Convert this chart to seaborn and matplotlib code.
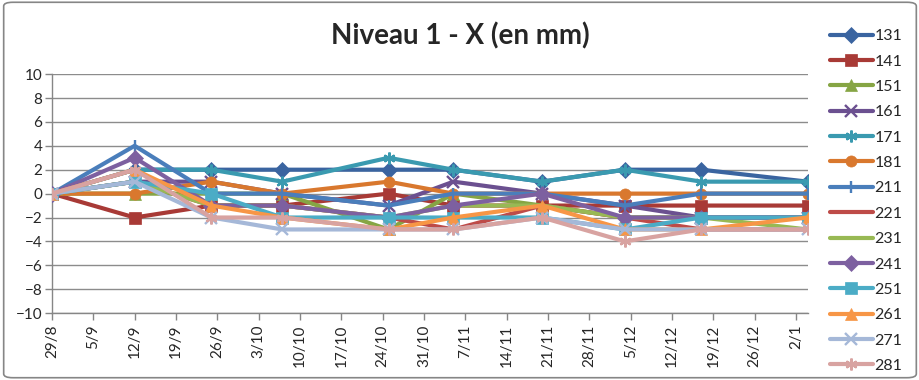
import matplotlib
matplotlib.use('Agg')
import matplotlib.pyplot as plt
import matplotlib.dates as mdates
from matplotlib.patches import FancyBboxPatch
import pandas as pd
import seaborn as sns

# measurement dates (dd/mm), season 2011-2012
dates = ['2011-08-29', '2011-09-12', '2011-09-25', '2011-10-07', '2011-10-25',
         '2011-11-05', '2011-11-20', '2011-12-04', '2011-12-17', '2012-01-04']

names = ['131', '141', '151', '161', '171', '181', '211',
         '221', '231', '241', '251', '261', '271', '281']

s131 = [0, 2, 2, 2, 2, 2, 1, 2, 2, 1]
s141 = [0, -2, -1, -1, 0, -1, -1, -1, -1, -1]
s151 = [0, 0, 0, 0, -3, 0, -1, -2, -2, -2]
s161 = [0, 1, 1, 0, -1, 1, 0, -1, -2, -2]
s171 = [0, 2, 2, 1, 3, 2, 1, 2, 1, 1]
s181 = [0, 0, 1, 0, 1, 0, 0, 0, 0, 0]
s211 = [0, 4, 0, 0, -1, 0, 0, -1, 0, 0]
s221 = [0, 1, -1, -1, -2, -3, -1, -2, -3, -3]
s231 = [0, 1, -1, -1, -2, -1, -1, -2, -2, -3]
s241 = [0, 3, -1, -1, -2, -1, 0, -2, -2, -2]
s251 = [0, 1, 0, -2, -2, -2, -2, -3, -2, -2]
s261 = [0, 2, -1, -2, -3, -2, -1, -3, -3, -2]
s271 = [0, 1, -2, -3, -3, -3, -2, -3, -3, -3]
s281 = [0, 2, -2, -2, -3, -3, -2, -4, -3, -3]

series = [s131, s141, s151, s161, s171, s181, s211,
          s221, s231, s241, s251, s261, s271, s281]

colors = ['#3A64A0', '#A83A36', '#86A544', '#6B5090', '#3A9AB0', '#D9782E', '#4A7EBB',
          '#BE4B48', '#98B954', '#7D60A0', '#4BACC6', '#F79646', '#A5B8D8', '#D8A3A1']
markers = ['D', 's', '^', 'x', (6, 2, 0), 'o', '|',
           '_', '_', 'D', 's', '^', 'x', (6, 2, 0)]

week_ticks = pd.date_range('2011-08-29', periods=19, freq='7D')

sns.set_style('white')
plt.rcParams['font.family'] = ['Lato', 'DejaVu Sans']

fig = plt.figure(figsize=(9.2, 3.8), dpi=100)
ax = fig.add_axes([0.0565, 0.176, 0.8215, 0.629])

x = pd.to_datetime(dates)
for name, vals, c, m in zip(names, series, colors, markers):
    lined = m in ('x', '|', '_', (6, 2, 0))
    sns.lineplot(x=x, y=vals, ax=ax, color=c, marker=m, label=name,
                 linewidth=3, markersize=8.5 if lined else 8,
                 markeredgecolor=c, markeredgewidth=1.7 if lined else 0.5,
                 zorder=3)

ax.set_ylim(-10, 10)
ax.set_yticks(range(-10, 11, 2))
ax.set_xlim(pd.Timestamp('2011-08-29'), pd.Timestamp('2012-01-04'))
ax.set_xticks(week_ticks)
ax.xaxis.set_major_formatter(mdates.DateFormatter('%-d/%-m'))
ax.tick_params(axis='x', rotation=90, labelsize=11, length=5, width=1,
               color='#868686', direction='out', bottom=True, pad=3)
ax.tick_params(axis='y', labelsize=11, length=5, width=1,
               color='#868686', direction='out', left=True, pad=2)
ax.yaxis.grid(True, color='#8C8C8C', linewidth=1)
ax.xaxis.grid(False)
for side in ('top', 'right'):
    ax.spines[side].set_visible(False)
for side in ('left', 'bottom'):
    ax.spines[side].set_color('#868686')
    ax.spines[side].set_linewidth(1)
ax.set_xlabel('')
ax.set_ylabel('')

fig.text(0.5, 0.905, 'Niveau 1 - X (en mm)', ha='center', va='center',
         fontsize=20, fontweight='bold')

handles, labels = ax.get_legend_handles_labels()
ax.legend(handles, labels, loc='center left', bbox_to_anchor=(0.895, 0.471),
          bbox_transform=fig.transFigure, frameon=False, fontsize=11.5,
          handlelength=2.7, handletextpad=0.1, labelspacing=0.7, borderaxespad=0)

fig.patches.append(FancyBboxPatch((0.004, 0.006), 0.992, 0.988,
                                  boxstyle='round,pad=0,rounding_size=0.01',
                                  transform=fig.transFigure, fill=False,
                                  edgecolor='#868686', linewidth=1.2))

fig.savefig('out.png', dpi=100)
